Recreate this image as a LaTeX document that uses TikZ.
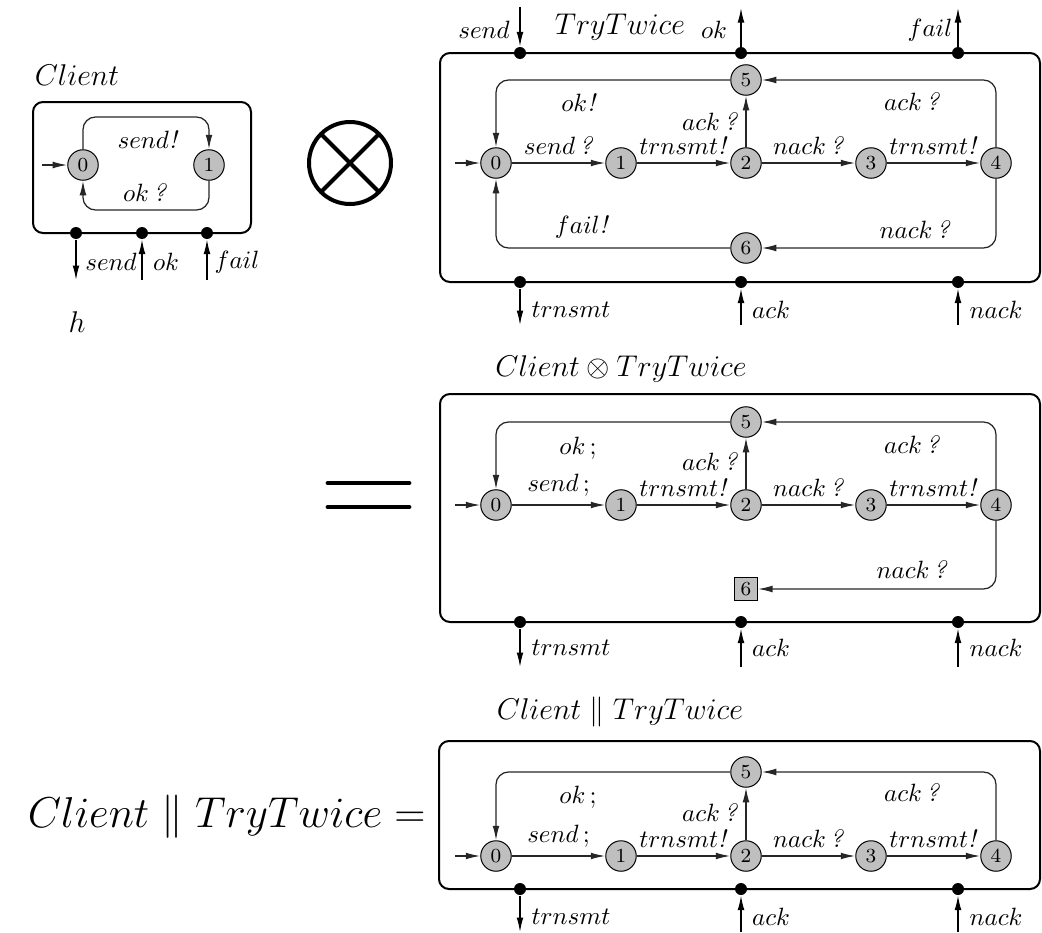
\documentclass[tikz,border=0pt]{standalone}
\usetikzlibrary{arrows.meta}
\newcommand\inp[1]{$#1$\,\textit{?}}
\newcommand\outp[1]{$#1$\textit{!}}
\newcommand\intn[1]{$#1$\,;}
\begin{document}
\begin{tikzpicture}[x=0.4pt,y=-0.4pt,
  stn/.style={circle,draw,fill=black!25,minimum size=12.2pt,inner sep=0pt,font=\footnotesize,line width=0.4pt},
  sqn/.style={rectangle,draw,fill=black!25,minimum size=9.2pt,inner sep=0pt,font=\footnotesize,line width=0.4pt},
  portdot/.style={circle,fill=black,inner sep=0pt,minimum size=4.8pt},
  tr/.style={draw=black!85,line width=0.5pt,-{Latex[length=5.8pt,width=2.7pt]}},
  ptr/.style={line width=0.55pt,-{Latex[length=5.8pt,width=2.7pt]}},
  frm/.style={draw,line width=0.8pt,rounded corners=4pt},
  lab/.style={inner sep=0pt},
  ttl/.style={font=\large,inner sep=0pt},
  lp/.style={tr,rounded corners=5pt}
]
\useasboundingbox (0,0) rectangle (1042,933);

% ---------------- Client ----------------
\draw[frm] (33,102) rectangle (251,233);
\node[ttl,anchor=base] (clientT) at (77,85) {$Client$};
\node[stn] (c0) at (83,165) {0};
\node[stn] (c1) at (209,165) {1};
\coordinate (c0in) at (42,165);
\draw[tr] (c0in) -- (c0);
\draw[lp] (c0.north) |- (146,117) -| (c1.north);
\draw[lp] (c1.south) |- (146,210) -| (c0.south);
\node[lab] (cl1) at (148,140) {\outp{send}};
\node[lab] (cl2) at (145,193) {\inp{ok}};
\node[portdot] (cpa) at (76,233) {};
\node[portdot] (cpb) at (142,233) {};
\node[portdot] (cpc) at (207,233) {};
\coordinate (cpae) at (76,280);
\coordinate (cpbe) at (142,280);
\coordinate (cpce) at (207,280);
\draw[ptr] (cpa) -- (cpae);
\draw[ptr] (cpbe) -- (cpb);
\draw[ptr] (cpce) -- (cpc);
\node[lab] (cpal) at (111,262) {$send$};
\node[lab] (cpbl) at (166,262) {$ok$};
\node[lab] (cpcl) at (237,262) {$fail$};
\node[font=\large,inner sep=0pt] (hlab) at (77,322) {$h$};

% ---------------- otimes and equals ----------------
\draw[line width=1.6pt] (350,163) circle (16.4pt);
\draw[line width=1.6pt] (350,163) +(45:16.4pt) -- +(225:16.4pt);
\draw[line width=1.6pt] (350,163) +(135:16.4pt) -- +(315:16.4pt);
\draw[line width=1.9pt,line cap=round] (328,483) -- (409,483);
\draw[line width=1.9pt,line cap=round] (328,507) -- (409,507);

% ---------------- TryTwice ----------------
\draw[frm] (440,53) rectangle (1040,282);
\node[ttl] (ttT) at (620,27) {$TryTwice$};
\node[stn] (a0) at (496,163) {0};
\node[stn] (a1) at (621,163) {1};
\node[stn] (a2) at (746,163) {2};
\node[stn] (a3) at (871,163) {3};
\node[stn] (a4) at (996,163) {4};
\node[stn] (a5) at (746,80) {5};
\node[stn] (a6) at (746,248) {6};
\coordinate (a0in) at (455,163);
\draw[tr] (a0in) -- (a0);
\draw[tr] (a0) -- node[above] {\inp{send}} (a1);
\draw[tr] (a1) -- node[above] {\outp{trnsmt}} (a2);
\draw[tr] (a2) -- node[above] {\inp{nack}} (a3);
\draw[tr] (a3) -- node[above] {\outp{trnsmt}} (a4);
\draw[tr] (a2) -- (a5);
\draw[lp] (a5.west) -| (a0.north);
\draw[lp] (a4.north) |- (a5.east);
\draw[lp] (a4.south) |- (a6.east);
\draw[lp] (a6.west) -| (a0.south);
\node[lab] (al1) at (579,103) {\outp{ok}};
\node[lab] (al2) at (582,227) {\outp{fail}};
\node[lab] (al3) at (912,102) {\inp{ack}};
\node[lab] (al4) at (915,230) {\inp{nack}};
\node[lab] (al5) at (710,122) {\inp{ack}};
% ports
\node[portdot] (apa) at (520,53) {};
\node[portdot] (apb) at (741,53) {};
\node[portdot] (apc) at (958,53) {};
\coordinate (apae) at (520,7);
\coordinate (apbe) at (741,8);
\coordinate (apce) at (958,8);
\draw[ptr] (apae) -- (apa);
\draw[ptr] (apb) -- (apbe);
\draw[ptr] (apc) -- (apce);
\node[lab] (apal) at (484,30) {$send$};
\node[lab] (apbl) at (714,30) {$ok$};
\node[lab] (apcl) at (930,30) {$fail$};
\node[portdot] (apd) at (520,282) {};
\node[portdot] (ape) at (741,282) {};
\node[portdot] (apf) at (958,282) {};
\coordinate (apde) at (520,325);
\coordinate (apee) at (741,325);
\coordinate (apfe) at (958,325);
\draw[ptr] (apd) -- (apde);
\draw[ptr] (apee) -- (ape);
\draw[ptr] (apfe) -- (apf);
\node[lab] (apdl) at (571,310) {$trnsmt$};
\node[lab] (apel) at (771,310) {$ack$};
\node[lab] (apfl) at (996,310) {$nack$};

% ---------------- Client (x) TryTwice ----------------
\node[ttl] (bT) at (621,369) {$Client \otimes TryTwice$};
\draw[frm] (440,394) rectangle (1040,622);
\node[stn] (b0) at (496,505) {0};
\node[stn] (b1) at (621,505) {1};
\node[stn] (b2) at (746,505) {2};
\node[stn] (b3) at (871,505) {3};
\node[stn] (b4) at (996,505) {4};
\node[stn] (b5) at (746,422) {5};
\node[sqn] (b6) at (746,589) {6};
\coordinate (b0in) at (455,505);
\draw[tr] (b0in) -- (b0);
\draw[tr] (b0) -- node[above] {\intn{send}} (b1);
\draw[tr] (b1) -- node[above] {\outp{trnsmt}} (b2);
\draw[tr] (b2) -- node[above] {\inp{nack}} (b3);
\draw[tr] (b3) -- node[above] {\outp{trnsmt}} (b4);
\draw[tr] (b2) -- (b5);
\draw[lp] (b5.west) -| (b0.north);
\draw[lp] (b4.north) |- (b5.east);
\draw[lp] (b4.south) |- (b6.east);
\node[lab] (bl1) at (578,448) {\intn{ok}};
\node[lab] (bl3) at (912,445) {\inp{ack}};
\node[lab] (bl4) at (912,570) {\inp{nack}};
\node[lab] (bl5) at (710,462) {\inp{ack}};
\node[portdot] (bpd) at (520,622) {};
\node[portdot] (bpe) at (741,622) {};
\node[portdot] (bpf) at (958,622) {};
\coordinate (bpde) at (520,667);
\coordinate (bpee) at (741,667);
\coordinate (bpfe) at (958,667);
\draw[ptr] (bpd) -- (bpde);
\draw[ptr] (bpee) -- (bpe);
\draw[ptr] (bpfe) -- (bpf);
\node[lab] (bpdl) at (571,648) {$trnsmt$};
\node[lab] (bpel) at (771,648) {$ack$};
\node[lab] (bpfl) at (996,648) {$nack$};

% ---------------- Client || TryTwice ----------------
\node[font=\fontsize{17}{20}\selectfont,inner sep=0pt,anchor=base east] (bigT) at (426,827) {$Client \parallel TryTwice =$};
\node[ttl] (cT) at (620,712) {$Client \parallel TryTwice$};
\draw[frm] (439,741) rectangle (1040,889);
\node[stn] (d0) at (496,856) {0};
\node[stn] (d1) at (621,856) {1};
\node[stn] (d2) at (746,856) {2};
\node[stn] (d3) at (871,856) {3};
\node[stn] (d4) at (996,856) {4};
\node[stn] (d5) at (746,772) {5};
\coordinate (d0in) at (455,856);
\draw[tr] (d0in) -- (d0);
\draw[tr] (d0) -- node[above] {\intn{send}} (d1);
\draw[tr] (d1) -- node[above] {\outp{trnsmt}} (d2);
\draw[tr] (d2) -- node[above] {\inp{nack}} (d3);
\draw[tr] (d3) -- node[above] {\outp{trnsmt}} (d4);
\draw[tr] (d2) -- (d5);
\draw[lp] (d5.west) -| (d0.north);
\draw[lp] (d4.north) |- (d5.east);
\node[lab] (dl1) at (578,797) {\intn{ok}};
\node[lab] (dl3) at (912,793) {\inp{ack}};
\node[lab] (dl5) at (710,813) {\inp{ack}};
\node[portdot] (dpd) at (520,889) {};
\node[portdot] (dpe) at (741,889) {};
\node[portdot] (dpf) at (958,889) {};
\coordinate (dpde) at (520,932);
\coordinate (dpee) at (741,932);
\coordinate (dpfe) at (958,932);
\draw[ptr] (dpd) -- (dpde);
\draw[ptr] (dpee) -- (dpe);
\draw[ptr] (dpfe) -- (dpf);
\node[lab] (dpdl) at (571,917) {$trnsmt$};
\node[lab] (dpel) at (771,917) {$ack$};
\node[lab] (dpfl) at (996,917) {$nack$};
\end{tikzpicture}
\end{document}
